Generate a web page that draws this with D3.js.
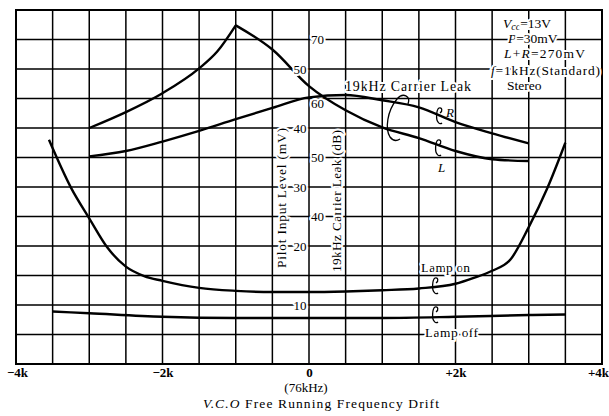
<!DOCTYPE html>
<html><head><meta charset="utf-8">
<script src="https://cdn.jsdelivr.net/npm/d3@7"></script>
<style>
html,body{margin:0;padding:0;background:#fff;}
svg{display:block;background:#fff;}
text{font-family:"Liberation Serif","Times New Roman",serif;fill:#000;}
.halo{paint-order:stroke;stroke:#fff;stroke-width:4px;stroke-linejoin:round;}
</style></head>
<body>
<svg id="chart" width="609" height="416"></svg>
<script>
// ---- data ----
const freqL = [-3000,-2500,-2000,-1500,-1250,-1000,-500,0,500,1000,1500,2000,2500,3000];
const leakL = [55.0,57.7,60.9,65.1,68.0,72.4,68.3,62.1,58.0,55.1,53.3,51.1,49.7,49.4];
const freqR = [-3000,-2500,-2000,-1500,-1000,-500,0,500,1000,1500,2000,2500,3000];
const leakR = [50.2,51.1,52.7,54.5,56.5,58.4,60.2,60.6,59.7,58.5,56.0,54.1,52.4];
const freqLampOn = [-3550,-3250,-3000,-2750,-2500,-2250,-2000,-1500,-1000,-500,0,500,1000,1500,2000,2250,2500,2750,3000,3250,3500];
const lampOn     = [38.0,29.9,24.7,19.7,16.5,14.9,14.1,12.9,12.4,12.2,12.2,12.3,12.5,12.8,13.6,14.6,15.8,17.7,23.2,29.7,37.5];
const freqLampOff = [-3500,-3000,-2000,-1000,0,1000,2000,3000,3500];
const lampOff     = [8.9,8.6,8.0,7.8,7.8,7.8,8.0,8.3,8.4];
const xTickVals = [-4000,-2000,0,2000,4000];
const xTickLabels = ["\u22124k","\u22122k","0","+2k","+4k"];
const mVTicks = [10,20,30,40,50];
const dBTicks = [70,60,50,40];
const legendLines = ["Vcc=13V","P=30mV","L+R=270mV","f=1kHz(Standard)","Stereo"];

// ---- scales ----
const svg = d3.select("#chart");
const pLeft = 16, pRight = 602, pTop = 10, pBottom = 364;
const x = d3.scaleLinear().domain([-4000,4000]).range([pLeft,pRight]);
const yMV = d3.scaleLinear().domain([0,60]).range([pBottom,pTop]);
const yDB = d3.scaleLinear().domain([15,75]).range([pBottom,pTop]);

// ---- grid as paths built from the scales ----
const gridV = d3.range(-4000,4001,500).map(v=>`M${x(v)},${pTop}V${pBottom}`).join("");
const gridH = d3.range(0,61,5).map(v=>`M${pLeft},${yMV(v)}H${pRight}`).join("");
svg.append("path").attr("d",gridV+gridH).attr("fill","none").attr("stroke","#000").attr("stroke-width",1.5);
svg.append("rect").attr("x",pLeft).attr("y",pTop).attr("width",pRight-pLeft).attr("height",pBottom-pTop)
  .attr("fill","none").attr("stroke","#000").attr("stroke-width",2);

// ---- curves ----
const lineGen = (ys) => d3.line().x(d=>x(d[0])).y(d=>ys(d[1])).curve(d3.curveMonotoneX);
const curveStyle = sel => sel.attr("fill","none").attr("stroke","#000").attr("stroke-width",2.4)
  .attr("stroke-linejoin","round").attr("stroke-linecap","butt");
const ptsL = d3.zip(freqL, leakL);
const peakIdx = leakL.indexOf(d3.max(leakL));
svg.append("path").attr("d", lineGen(yDB)(ptsL.slice(0,peakIdx+1))).call(curveStyle);
svg.append("path").attr("d", lineGen(yDB)(ptsL.slice(peakIdx))).call(curveStyle);
svg.append("path").attr("d", lineGen(yDB)(d3.zip(freqR, leakR))).call(curveStyle);
svg.append("path").attr("d", lineGen(yMV)(d3.zip(freqLampOn, lampOn))).call(curveStyle);
svg.append("path").attr("d", lineGen(yMV)(d3.zip(freqLampOff, lampOff))).call(curveStyle);

// ---- axis titles & labels (with white halos over grid) ----
const x0 = x(0);
svg.append("text").attr("class","halo")
  .attr("transform",`translate(${x0-28},198) rotate(-90)`)
  .attr("text-anchor","middle").attr("font-size",13.5)
  .attr("textLength",140).attr("lengthAdjust","spacing")
  .attr("dy","0.35em").text("Pilot Input Level (mV)");
svg.append("text").attr("class","halo")
  .attr("transform",`translate(${x0+27},201) rotate(-90)`)
  .attr("text-anchor","middle").attr("font-size",13.5)
  .attr("textLength",142).attr("lengthAdjust","spacing")
  .attr("dy","0.35em").text("19kHz Carrier Leak (dB)");

svg.selectAll("text.mv").data(mVTicks).join("text").attr("class","halo mv")
  .attr("x",x0-2.5).attr("y",d=>yMV(d)).attr("dy","0.36em")
  .attr("text-anchor","end").attr("font-size",13).text(d=>d);
svg.selectAll("text.db").data(dBTicks).join("text").attr("class","halo db")
  .attr("x",x0+2).attr("y",d=>yDB(d)+(d===60?5:0)).attr("dy","0.36em")
  .attr("text-anchor","start").attr("font-size",13).text(d=>d);

// ---- annotations ----
svg.append("text").attr("class","halo").attr("x",345).attr("y",91)
  .attr("font-size",14).attr("textLength",126).attr("lengthAdjust","spacing")
  .text("19kHz Carrier Leak");
const thin = sel => sel.attr("fill","none").attr("stroke","#000").attr("stroke-width",1.3);
svg.append("path").attr("d","M408,104 C411,96 403,92 397,99 C387,111 385,129 390,137 C393,141 397,141 400,139").call(thin);
const loop = (cx,cy) => `M${cx+1},${cy-3} C${cx+4},${cy-5} ${cx+3},${cy-9} ${cx},${cy-8} C${cx-3},${cy-6} ${cx-3},${cy+4} ${cx-1},${cy+6} C${cx},${cy+8} ${cx+2},${cy+8} ${cx+3},${cy+7}`;
svg.append("path").attr("d",loop(439,116)).call(thin);
svg.append("path").attr("d",loop(438,148)).call(thin);
svg.append("path").attr("d",loop(435,286)).call(thin);
svg.append("path").attr("d",loop(435,315)).call(thin);
svg.append("text").attr("x",446).attr("y",117).attr("font-size",13).attr("font-style","italic").text("R");
svg.append("text").attr("x",438).attr("y",172).attr("font-size",13).attr("font-style","italic").text("L");
svg.append("text").attr("class","halo").attr("x",421).attr("y",272).attr("font-size",13.5)
  .attr("textLength",49).attr("lengthAdjust","spacing").text("Lamp on");
svg.append("text").attr("class","halo").attr("x",425).attr("y",337).attr("font-size",13.5)
  .attr("textLength",53).attr("lengthAdjust","spacing").text("Lamp off");

// ---- conditions block ----
const cond = svg.append("g").attr("font-size",13.5);
const t1 = cond.append("text").attr("class","halo").attr("x",503).attr("y",28);
t1.append("tspan").attr("font-style","italic").text(legendLines[0].slice(0,1));
t1.append("tspan").attr("font-style","italic").attr("font-size",10).attr("dy",1.5).text(legendLines[0].slice(1,3));
t1.append("tspan").attr("dy",-1.5).text(legendLines[0].slice(3));
const t2 = cond.append("text").attr("class","halo").attr("x",508).attr("y",43);
t2.append("tspan").attr("font-style","italic").text(legendLines[1].slice(0,1));
t2.append("tspan").text(legendLines[1].slice(1));
const t3 = cond.append("text").attr("class","halo").attr("x",504).attr("y",58).attr("textLength",81).attr("lengthAdjust","spacing");
t3.append("tspan").attr("font-style","italic").text(legendLines[2].slice(0,1));
t3.append("tspan").text(legendLines[2].slice(1,2));
t3.append("tspan").attr("font-style","italic").text(legendLines[2].slice(2,3));
t3.append("tspan").text(legendLines[2].slice(3));
const t4 = cond.append("text").attr("class","halo").attr("x",491).attr("y",75).attr("textLength",109).attr("lengthAdjust","spacing");
t4.append("tspan").attr("font-style","italic").text(legendLines[3].slice(0,1));
t4.append("tspan").text(legendLines[3].slice(1));
cond.append("text").attr("class","halo").attr("x",507).attr("y",90).text(legendLines[4]);

// ---- x axis labels ----
const xAxis = d3.axisBottom(x).tickValues(xTickVals).tickSize(0)
  .tickFormat((d,i)=>xTickLabels[i]);
const ax = svg.append("g").attr("transform",`translate(0,${pBottom})`).call(xAxis);
ax.select(".domain").remove();
ax.selectAll("text").attr("font-family","Liberation Serif, serif").attr("font-size",13)
  .attr("font-weight","bold").attr("fill","#000").attr("dy","0.78em")
  .attr("dx",(d,i)=> i===0 ? 1 : (i===xTickVals.length-1 ? -4 : 0));
svg.append("text").attr("x",306).attr("y",392).attr("text-anchor","middle").attr("font-size",13).text("(76kHz)");
const tt = svg.append("text").attr("x",321).attr("y",408).attr("text-anchor","middle").attr("font-size",13.5)
  .attr("textLength",236).attr("lengthAdjust","spacing");
tt.append("tspan").attr("font-style","italic").text("V.C.O");
tt.append("tspan").text(" Free Running Frequency Drift");
</script>
</body></html>
